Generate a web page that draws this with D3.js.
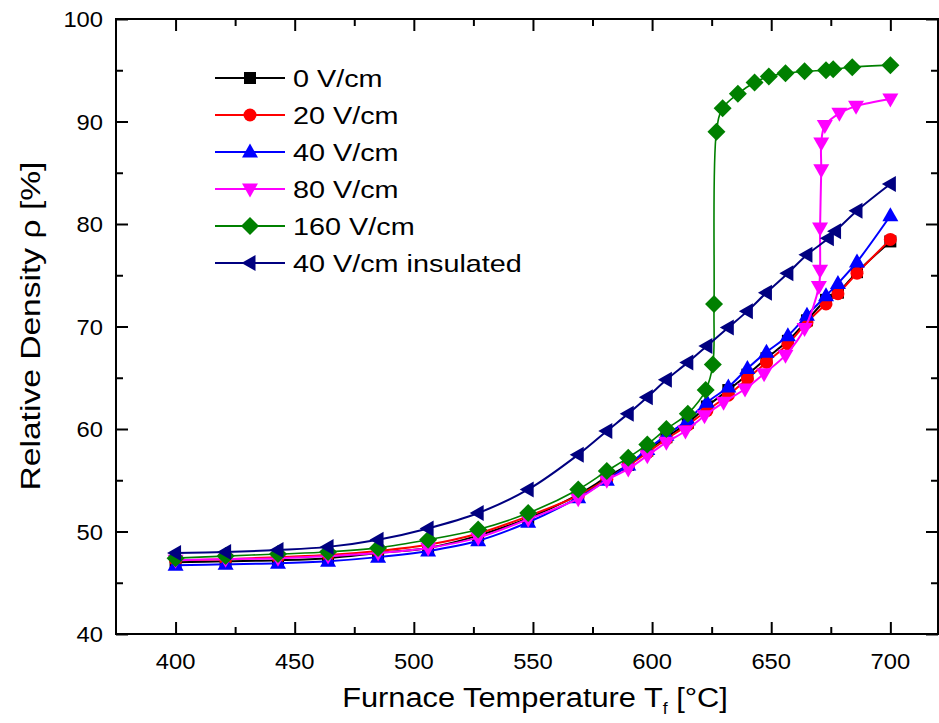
<!DOCTYPE html>
<html><head><meta charset="utf-8">
<script src="https://cdn.jsdelivr.net/npm/d3@7/dist/d3.min.js"></script>
<style>body{margin:0;background:#fff}svg{display:block}text{font-family:"Liberation Sans",Arial,sans-serif;fill:#000}</style>
</head><body><svg id="c" width="939" height="723"></svg>
<script>
const seriesNames = ["0 V/cm","20 V/cm","40 V/cm","80 V/cm","160 V/cm","40 V/cm insulated"];
const T_common = [400,421,443,464,485,506,527,548,569,581,590,598,606,615,623,632,640,648,657,665,673,678,686,700];
const black_T = T_common;
const black_V = [47.0,47.1,47.2,47.4,47.9,48.4,49.6,51.3,53.6,55.3,56.5,57.9,59.2,60.6,62.2,63.8,65.3,66.9,68.6,70.6,72.6,73.3,75.3,78.3];
const red_T = T_common;
const red_V = [47.2,47.3,47.5,47.7,48.1,48.7,49.8,51.5,53.5,55.1,56.4,57.7,59.0,60.4,61.8,63.3,64.9,66.5,68.3,70.4,72.2,73.2,75.2,78.5];
const blue_T = T_common;
const blue_V = [46.7,46.8,46.9,47.1,47.5,48.1,49.1,50.9,53.3,55.0,56.5,58.0,59.4,60.9,62.6,64.1,65.9,67.5,69.1,71.1,73.0,74.2,76.3,80.8];
const magenta_T = [400,421,443,464,485,506,527,548,569,581,590,598,606,614,622,630,639,647,656,664,670,670.5,670.5,671,671,672.5,678.6,685.6,700];
const magenta_V = [47.2,47.3,47.4,47.6,47.9,48.4,49.4,51.2,53.2,55.0,56.1,57.4,58.7,59.8,61.3,62.6,63.9,65.4,67.2,69.8,73.9,75.5,79.6,85.3,87.9,89.6,90.8,91.5,92.2];
const green_T = [400,421,443,464,485,506,527,548,569,581,590,598,606,615,622.5,625.5,626,627,629.6,636,643,649,656,664,673,676,684,700];
const green_V = [47.4,47.6,47.8,48.0,48.4,49.2,50.2,51.8,54.1,55.9,57.2,58.5,60.0,61.5,63.8,66.3,72.2,89.0,91.3,92.7,93.8,94.4,94.7,94.9,95.0,95.1,95.3,95.5];
const navy_T = [400,421,443,464,485,506,527,548,569,581,590,598,606,615,623,632,640,648,657,665,674,677,686,700];
const navy_V = [47.9,48.0,48.2,48.5,49.2,50.3,51.8,54.1,57.5,59.8,61.5,63.1,64.8,66.5,68.1,69.9,71.5,73.3,75.2,77.0,78.6,79.3,81.3,83.9];
const xTicks = [400,450,500,550,600,650,700];
const yTicks = [40,50,60,70,80,90,100];

const colors = ["#000000","#ff0000","#0000ff","#ff00ff","#008000","#000080"];
const shapes = ["square","circle","up","down","diamond","left"];
const series = [
  {T:black_T,V:black_V},{T:red_T,V:red_V},{T:blue_T,V:blue_V},
  {T:magenta_T,V:magenta_V},{T:green_T,V:green_V},{T:navy_T,V:navy_V}
].map((s,i)=>({name:seriesNames[i],color:colors[i],shape:shapes[i],pts:s.T.map((t,j)=>[t,s.V[j]])}));

const W=939,H=723,m={l:116,r:1,t:19,b:89};
const svg=d3.select("#c");
const x=d3.scaleLinear().domain([375,720]).range([m.l,W-m.r]);
const y=d3.scaleLinear().domain([40,100]).range([H-m.b,m.t]);

function sym(shape){
  switch(shape){
    case "square": return "M-6,-6H6V6H-6Z";
    case "circle": return "M6.5,0A6.5,6.5 0 1,1 -6.5,0A6.5,6.5 0 1,1 6.5,0Z";
    case "up": return "M0,-8.5L8,5.5L-8,5.5Z";
    case "down": return "M0,8.5L8,-5.5L-8,-5.5Z";
    case "diamond": return "M0,-9L9,0L0,9L-9,0Z";
    case "left": return "M-8.5,0L5.5,-8L5.5,8Z";
  }
}

const line=d3.line().x(d=>x(d[0])).y(d=>y(d[1])).curve(d3.curveCatmullRom.alpha(0.5));
const g=svg.append("g");
series.forEach(s=>{
  const gs=g.append("g");
  gs.append("path").attr("d",line(s.pts)).attr("fill","none").attr("stroke",s.color).attr("stroke-width",s.shape==="diamond"?1.6:2);
  gs.selectAll("path.m").data(s.pts).enter().append("path").attr("class","m")
    .attr("d",sym(s.shape)).attr("transform",d=>`translate(${x(d[0])},${y(d[1])})`).attr("fill",s.color);
});

// axes (ticks via d3 axes, labels drawn from the same scales)
const ax=svg.append("g");
const minorX=d3.range(425,720,50), minorY=d3.range(45,100,10);
ax.append("g").attr("transform",`translate(0,${H-m.b})`).call(d3.axisBottom(x).tickValues(xTicks).tickSizeInner(-12).tickSizeOuter(0).tickFormat(""));
ax.append("g").attr("transform",`translate(0,${H-m.b})`).call(d3.axisBottom(x).tickValues(minorX).tickSizeInner(-7).tickSizeOuter(0).tickFormat(""));
ax.append("g").attr("transform",`translate(0,${m.t})`).call(d3.axisTop(x).tickValues(xTicks).tickSizeInner(-12).tickSizeOuter(0).tickFormat(""));
ax.append("g").attr("transform",`translate(0,${m.t})`).call(d3.axisTop(x).tickValues(minorX).tickSizeInner(-7).tickSizeOuter(0).tickFormat(""));
ax.append("g").attr("transform",`translate(${m.l},0)`).call(d3.axisLeft(y).tickValues(yTicks).tickSizeInner(-12).tickSizeOuter(0).tickFormat(""));
ax.append("g").attr("transform",`translate(${m.l},0)`).call(d3.axisLeft(y).tickValues(minorY).tickSizeInner(-7).tickSizeOuter(0).tickFormat(""));
ax.append("g").attr("transform",`translate(${W-m.r},0)`).call(d3.axisRight(y).tickValues(yTicks).tickSizeInner(-12).tickSizeOuter(0).tickFormat(""));
ax.append("g").attr("transform",`translate(${W-m.r},0)`).call(d3.axisRight(y).tickValues(minorY).tickSizeInner(-7).tickSizeOuter(0).tickFormat(""));
ax.selectAll(".domain").remove();
ax.selectAll("line").attr("stroke","#000").attr("stroke-width",2);
ax.selectAll("text").remove();
svg.append("g").selectAll("text").data(xTicks).enter().append("text")
  .attr("transform",d=>`translate(${x(d)},${669}) scale(1.08,1)`).attr("text-anchor","middle").style("font-size","22px").text(d=>d);
svg.append("g").selectAll("text").data(yTicks).enter().append("text")
  .attr("transform",d=>`translate(103,${y(d)+8}) scale(1.08,1)`).attr("text-anchor","end").style("font-size","22px").text(d=>d);
svg.append("rect").attr("x",m.l).attr("y",m.t).attr("width",W-m.r-m.l).attr("height",H-m.b-m.t).attr("fill","none").attr("stroke","#000").attr("stroke-width",2);

// titles
const xt=svg.append("text").attr("transform","translate(535,707) scale(1.1,1)").attr("text-anchor","middle").style("font-size","28px");
xt.append("tspan").text("Furnace Temperature T");
xt.append("tspan").attr("dy",7).style("font-size","16px").text("f");
xt.append("tspan").attr("dy",-7).text(" [°C]");
const yt=svg.append("text").attr("transform","translate(40,326) rotate(-90) scale(1.2,1)").attr("text-anchor","middle").style("font-size","28px");
yt.text("Relative Density ρ [%]");

// legend
const lg=svg.append("g");
series.forEach((s,i)=>{
  const yy=78+i*37;
  lg.append("line").attr("x1",215).attr("x2",285).attr("y1",yy).attr("y2",yy).attr("stroke",s.color).attr("stroke-width",2);
  lg.append("path").attr("d",sym(s.shape)).attr("transform",`translate(250,${yy})`).attr("fill",s.color);
  lg.append("text").attr("transform",`translate(293,${yy+8.5}) scale(1.2,1)`).style("font-size","24px").text(s.name);
});
</script></body></html>
